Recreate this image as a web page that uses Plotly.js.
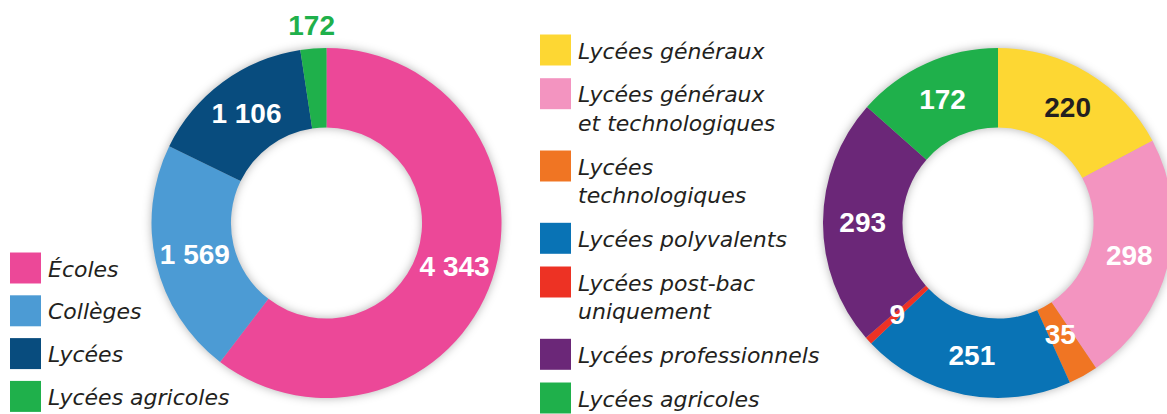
<!DOCTYPE html>
<html>
<head>
<meta charset="utf-8">
<script src="https://cdn.plot.ly/plotly-3.0.1.min.js"></script>
<style>
html, body { margin: 0; padding: 0; overflow: hidden; background: #fff; width: 1167px; height: 414px; }
#chart { width: 1180px; height: 440px; }
</style>
</head>
<body>
<div id="chart"></div>
<script>
// ---- Data ----
const leftLabels = ['Écoles', 'Collèges', 'Lycées', 'Lycées agricoles'];
const leftValues = [4343, 1569, 1106, 172];
const leftColors = ['#EC4898', '#4C9BD4', '#084C7E', '#1FB04B'];

const rightLabels = ['Lycées généraux', 'Lycées généraux<br>et technologiques', 'Lycées<br>technologiques',
  'Lycées polyvalents', 'Lycées post-bac<br>uniquement', 'Lycées professionnels', 'Lycées agricoles'];
const rightValues = [220, 298, 35, 251, 9, 293, 172];
const rightColors = ['#FDD733', '#F394C0', '#F07523', '#0973B5', '#ED3224', '#6B2778', '#1FB04B'];
const rightTextColors = ['#231F20', '#FFFFFF', '#FFFFFF', '#FFFFFF', '#FFFFFF', '#FFFFFF', '#FFFFFF'];

// ---- Geometry / style ----
const W = 1180, H = 440, R = 175, HOLE = 0.546;
const LEFT_C = [326.5, 223], RIGHT_C = [998, 223];
const LEFT_OVER_R = 213.4, RIGHT_OVER_R = 139;
const SMALL_SHARE = 0.05;
const LABEL_FONT = {family: 'Liberation Sans, Arial, sans-serif', size: 28, weight: 'bold'};
const LEGEND_FONT = {family: 'DejaVu Sans, sans-serif', size: 22, style: 'italic', color: '#231F20'};
const TRANSPARENT = 'rgba(0,0,0,0)';

function dom(c, r) {
  return {x: [(c[0] - r) / W, (c[0] + r) / W], y: [1 - (c[1] + r) / H, 1 - (c[1] - r) / H]};
}
const fmt = v => String(v).replace(/\B(?=(\d{3})+(?!\d))/g, ' ');
const sum = a => a.reduce((s, v) => s + v, 0);
const isSmall = vals => vals.map(v => v / sum(vals) < SMALL_SHARE);
const leftSmall = isSmall(leftValues), rightSmall = isSmall(rightValues);

const common = {type: 'pie', sort: false, direction: 'clockwise', rotation: 0,
  textposition: 'inside', insidetextorientation: 'horizontal', hoverinfo: 'none'};

// rings (drawn with a soft shadow)
const leftRing = Object.assign({}, common, {
  labels: leftLabels, values: leftValues, hole: HOLE, domain: dom(LEFT_C, R),
  marker: {colors: leftColors, line: {width: 0}}, textinfo: 'none',
  legend: 'legend', legendgroup: 'L'
});
const rightRing = Object.assign({}, common, {
  labels: rightLabels, values: rightValues, hole: HOLE, domain: dom(RIGHT_C, R),
  marker: {colors: rightColors, line: {width: 0}}, textinfo: 'none',
  legend: 'legend2', legendgroup: 'R'
});
// value labels of the larger slices (same geometry as the rings)
const leftText = Object.assign({}, common, {
  labels: leftLabels, values: leftValues, hole: HOLE, domain: dom(LEFT_C, R),
  marker: {colors: leftValues.map(() => TRANSPARENT), line: {width: 0}}, textinfo: 'text',
  text: leftValues.map((v, i) => leftSmall[i] ? '' : fmt(v)),
  textfont: Object.assign({}, LABEL_FONT, {color: '#FFFFFF'}), showlegend: false
});
const rightText = Object.assign({}, common, {
  labels: rightLabels, values: rightValues, hole: HOLE, domain: dom(RIGHT_C, R),
  marker: {colors: rightValues.map(() => TRANSPARENT), line: {width: 0}}, textinfo: 'text',
  text: rightValues.map((v, i) => rightSmall[i] ? '' : fmt(v)),
  textfont: Object.assign({}, LABEL_FONT, {color: rightTextColors}), showlegend: false
});
// value labels of the thin slices
const leftSmallText = Object.assign({}, common, {
  labels: leftLabels, values: leftValues, domain: dom(LEFT_C, LEFT_OVER_R),
  marker: {colors: leftValues.map(() => TRANSPARENT), line: {width: 0}}, textinfo: 'text',
  text: leftValues.map((v, i) => leftSmall[i] ? fmt(v) : ''),
  textfont: Object.assign({}, LABEL_FONT, {color: leftColors}), showlegend: false
});
const rightSmallText = Object.assign({}, common, {
  labels: rightLabels, values: rightValues, domain: dom(RIGHT_C, RIGHT_OVER_R),
  marker: {colors: rightValues.map(() => TRANSPARENT), line: {width: 0}}, textinfo: 'text',
  text: rightValues.map((v, i) => rightSmall[i] ? fmt(v) : ''),
  textfont: Object.assign({}, LABEL_FONT, {color: rightTextColors}), showlegend: false
});

const traces = [leftRing, rightRing, leftText, rightText, leftSmallText, rightSmallText];

const legendBase = {xanchor: 'left', yanchor: 'top', font: LEGEND_FONT, itemwidth: 38,
  bgcolor: 'rgba(0,0,0,0)', valign: 'top', traceorder: 'normal', itemclick: false, itemdoubleclick: false};

const layout = {
  width: W, height: H,
  margin: {l: 0, r: 0, t: 0, b: 0},
  paper_bgcolor: '#FFFFFF',
  showlegend: true,
  uniformtext: {mode: 'show', minsize: 28},
  legend: Object.assign({}, legendBase, {x: 0, y: 1 - 247.2 / H}),
  legend2: Object.assign({}, legendBase, {x: 530 / W, y: 1 - 29.2 / H})
};

function finish(gd) {
  // extra spacing between legend entries and larger colour swatches
  [['legend', 11.2], ['legend2', 12.1]].forEach(([cls, gap]) => {
    const lg = gd.querySelector('g.' + cls);
    if (!lg) return;
    const sb = lg.querySelector('.scrollbox');
    if (sb) sb.removeAttribute('clip-path');
    lg.querySelectorAll('g.traces').forEach((it, i) => {
      const m = /translate\(\s*([-\d.e]+)[ ,]+([-\d.e]+)\s*\)/.exec(it.getAttribute('transform') || '');
      if (m) it.setAttribute('transform', 'translate(' + (+m[1]) + ',' + (+m[2] + gap * i) + ')');
      it.querySelectorAll('path.legendpie').forEach(p => p.setAttribute('transform', 'translate(25.5,0) scale(2.583)'));
    });
  });
  // soft shadow under the two rings
  const ringGroups = gd.querySelectorAll('.pielayer g.trace');
  [0, 1].forEach(i => {
    if (ringGroups[i]) ringGroups[i].style.filter = 'drop-shadow(0px 0px 5px rgba(0,0,0,0.3))';
  });
}

Plotly.newPlot('chart', traces, layout, {staticPlot: true, displayModeBar: false}).then(finish);
</script>
</body>
</html>
